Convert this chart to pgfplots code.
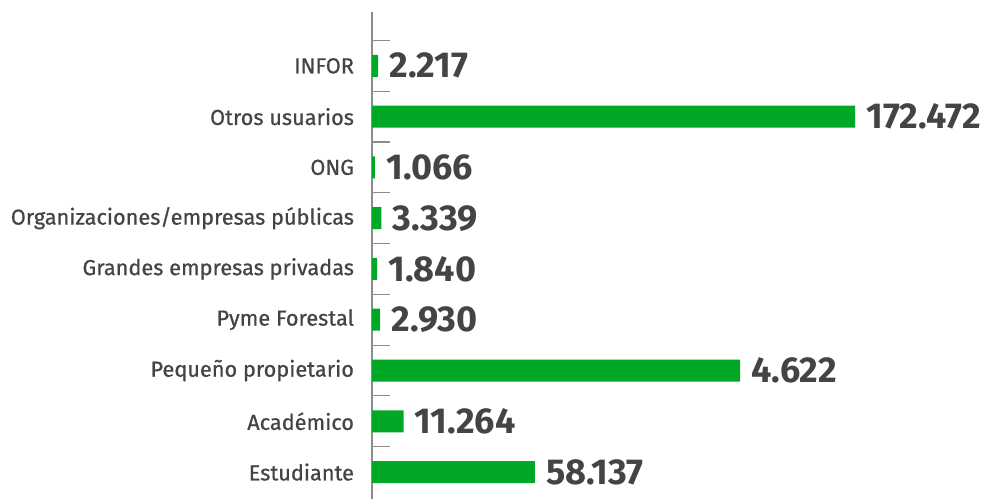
\documentclass[border=0pt]{standalone}
\usepackage{pgfplots}
\pgfplotsset{compat=1.18}
\usepackage{fontspec}
\setmainfont{Fira Sans}
\newfontfamily\labfont[FakeBold=0.7]{Fira Sans}
\definecolor{barg}{RGB}{0,168,38}
\definecolor{txt}{RGB}{68,68,68}
\definecolor{axg}{RGB}{140,140,140}

\begin{document}
\begin{tikzpicture}
  \path[use as bounding box] (0,0) rectangle (738pt,374.25pt);
  \begin{axis}[
    at={(279pt,0pt)}, anchor=south west,
    scale only axis, width=459pt, height=365.25pt,
    xbar, bar width=16.5pt,
    xmin=0, xmax=218500,
    ymin=-0.53, ymax=9.06,
    axis x line=none,
    axis y line=left,
    axis line style={-, axg, line width=0.8pt},
    ytick={0,...,8},
    yticklabels={Estudiante, Académico, Pequeño propietario, Pyme Forestal,
      Grandes empresas privadas, Organizaciones/empresas públicas, ONG,
      Otros usuarios, INFOR},
    major tick length=0pt,
    minor ytick={0.5,1.5,...,8.5},
    minor tick length=13.5pt,
    tick align=inside,
    minor tick style={axg, line width=0.8pt},
    yticklabel style={font=\labfont\fontsize{16.3pt}{19pt}\selectfont, text=txt, xshift=-10pt},
    point meta=explicit symbolic,
    nodes near coords={\pgfplotspointmeta},
    nodes near coords style={font=\fontsize{27pt}{30pt}\selectfont\bfseries,
      text=txt, anchor=west, xshift=5pt},
    clip=false,
  ]
    \addplot[draw=none, fill=barg] coordinates {
      (58137,0) [58.137]
      (11264,1) [11.264]
      (131400,2) [4.622]
      (2930,3) [2.930]
      (1840,4) [1.840]
      (3339,5) [3.339]
      (1066,6) [1.066]
      (172472,7) [172.472]
      (2217,8) [2.217]
    };
  \end{axis}
\end{tikzpicture}
\end{document}
